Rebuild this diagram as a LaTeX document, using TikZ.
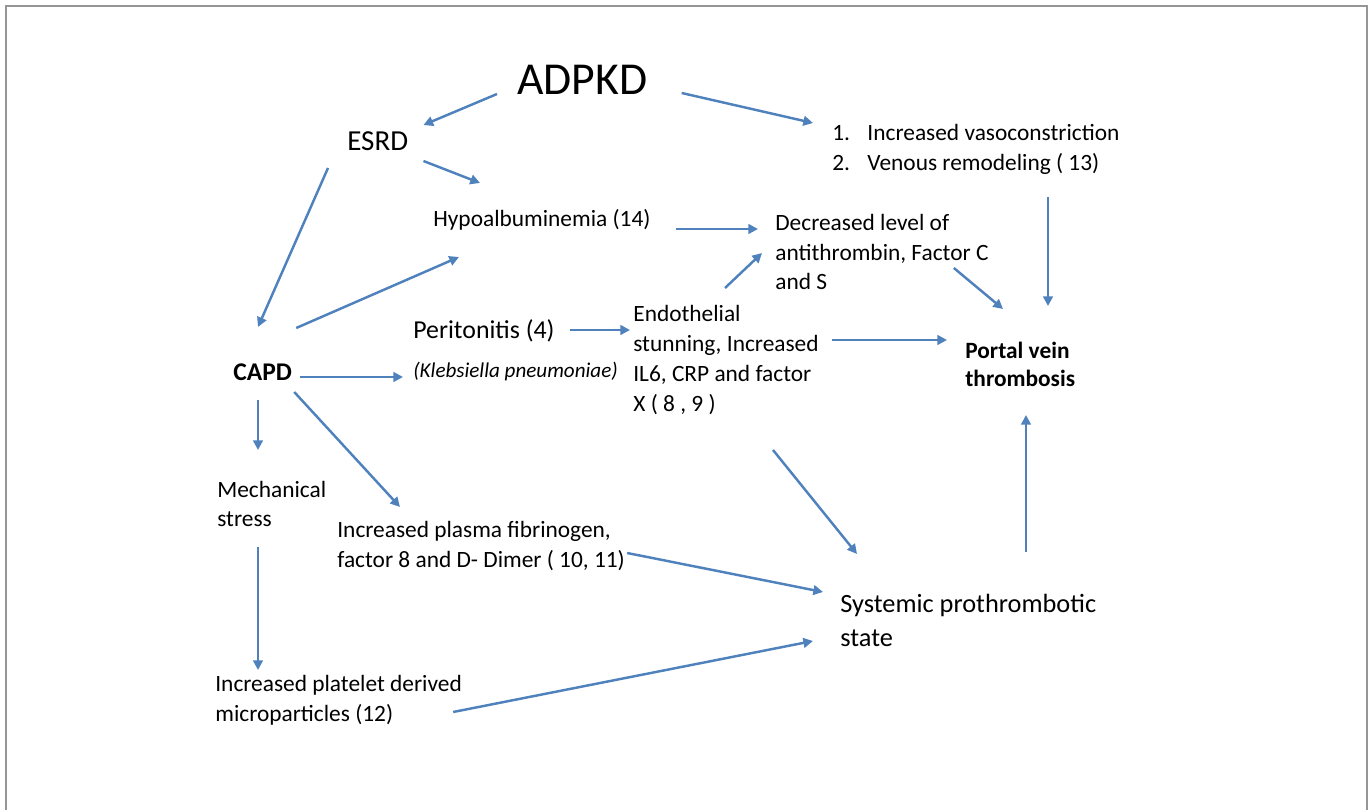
\documentclass[tikz,border=0pt]{standalone}
\usepackage{fontspec}
\setmainfont{Carlito}
\usetikzlibrary{arrows.meta}
\definecolor{arrblue}{RGB}{79,129,189}
\definecolor{framegray}{RGB}{150,150,150}

\begin{document}
\begin{tikzpicture}[x=0.02cm,y=-0.02cm,>={Triangle[length=5.5pt,width=5.5pt]},
  txt/.style={anchor=west,inner sep=0pt,align=left,font=\fontsize{13.3}{17}\selectfont},
  arr/.style={->,arrblue,line width=1.4pt}]
  \useasboundingbox (0,0) rectangle (1370,810);
  % frame, open at the bottom
  \draw[framegray,line width=1.2pt] (6,810) -- (6,6) -- (1367,6) -- (1367,810);

  % causes
  \node[txt,font=\fontsize{26}{30}\selectfont] (adpkd) at (517,80) {ADPKD};
  \node[txt,font=\fontsize{16.5}{20}\selectfont] (esrd) at (347,141) {ESRD};
  \node[txt,font=\bfseries\fontsize{14.5}{18}\selectfont] (capd) at (233,372) {CAPD};
  \node[txt] (hypo) at (433,220) {Hypoalbuminemia (14)};
  \node[txt] (vaso) at (832,149)
    {\makebox[20pt][l]{1.}Increased vasoconstriction\\
     \makebox[20pt][l]{2.}Venous remodeling ( 13)};
  \node[txt] (decr) at (775,252) {Decreased level of\\antithrombin, Factor C\\and S};
  \node[txt,font=\fontsize{14.7}{18}\selectfont] (perit) at (413,331) {Peritonitis (4)};
  \node[txt,font=\itshape\fontsize{12}{15}\selectfont] (kleb) at (413,372) {(Klebsiella pneumoniae)};
  \node[txt] (endo) at (633,360)
    {Endothelial\\stunning, Increased\\IL6, CRP and factor\\X ( 8 , 9 )};
  \node[txt,font=\bfseries\fontsize{13.3}{16}\selectfont] (pvt) at (965,364) {Portal vein\\thrombosis};
  \node[txt] (mech) at (217,504) {Mechanical\\stress};
  \node[txt] (fibr) at (337,546) {Increased plasma fibrinogen,\\factor 8 and D- Dimer ( 10, 11)};
  \node[txt,font=\fontsize{15}{19.3}\selectfont] (sps) at (840,620) {Systemic prothrombotic\\state};
  \node[txt] (plat) at (215,700) {Increased platelet derived\\microparticles (12)};

  % arrows
  \draw[arr] ([shift={(-20,14)}]adpkd.west) -- ([shift={(15,-16)}]esrd.east);
  \draw[arr] ([shift={(34,13)}]adpkd.east) -- ([shift={(-19,-26)}]vaso.west);
  \draw[arr] ([shift={(15,20)}]esrd.east) -- ([shift={(47,-37)}]hypo.west);
  \draw[arr] ([shift={(-19,27)}]esrd.west) -- ([shift={(25,-45)}]capd.west);
  \draw[arr] ([shift={(4,-44)}]capd.east) -- ([shift={(26,37)}]hypo.west);
  \draw[arr] ([shift={(25,9)}]hypo.east) -- ([shift={(-17,-23)}]decr.west);
  \draw[arr] ([shift={(92,-72)}]endo.west) -- ([shift={(-13,1)}]decr.west);
  \draw[arr] ([shift={(-35,16)}]decr.east) -- ([shift={(38,-55)}]pvt.west);
  \draw[arr] ([shift={(216,48)}]vaso.west) -- ([shift={(83,-58)}]pvt.west);
  \draw[arr] ([shift={(15,-1)}]perit.east) -- ([shift={(-3,-30)}]endo.west);
  \draw[arr] ([shift={(199,-20)}]endo.west) -- ([shift={(-18,-24)}]pvt.west);
  \draw[arr] ([shift={(8,5)}]capd.east) -- ([shift={(-10,5)}]kleb.west);
  \draw[arr] ([shift={(25,28)}]capd.west) -- ([shift={(41,-54)}]mech.west);
  \draw[arr] ([shift={(2,20)}]capd.east) -- ([shift={(63,-39)}]fibr.west);
  \draw[arr] ([shift={(140,90)}]endo.west) -- ([shift={(17,-66)}]sps.west);
  \draw[arr] ([shift={(186,-68)}]sps.west) -- ([shift={(61,51)}]pvt.west);
  \draw[arr] ([shift={(2,7)}]fibr.east) -- ([shift={(-17,-28)}]sps.west);
  \draw[arr] ([shift={(41,43)}]mech.west) -- ([shift={(43,-30)}]plat.west);
  \draw[arr] ([shift={(-9,12)}]plat.east) -- ([shift={(-27,21)}]sps.west);
\end{tikzpicture}
\end{document}
